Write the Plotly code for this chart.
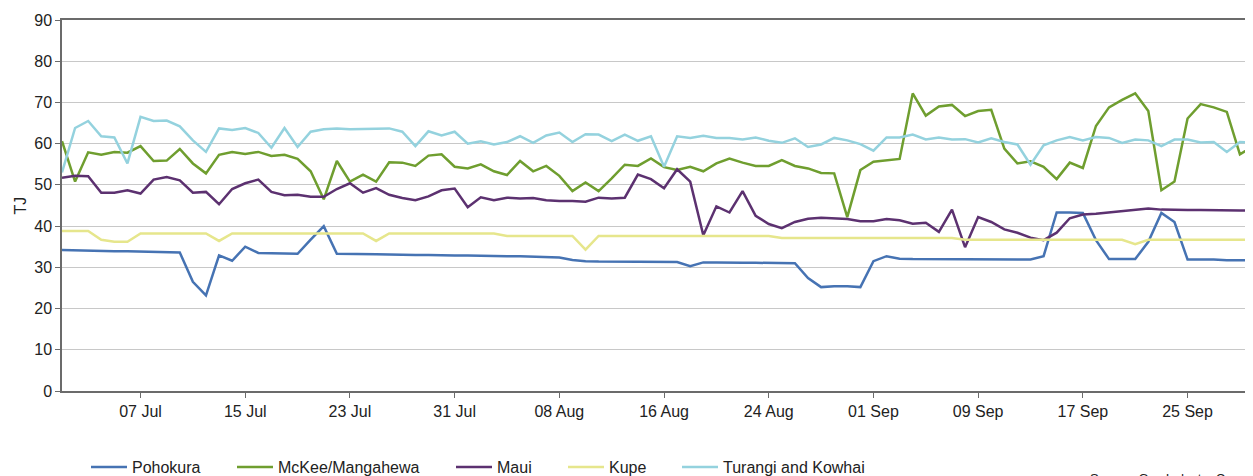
import pandas as pd
import plotly.graph_objects as go

dates = pd.date_range("2023-07-01", periods=92, freq="D")

pohokura = [34.2, 34.1, 34.0, 34.0, 33.9, 33.9, 33.8, 33.7, 33.7, 33.6,
            26.5, 23.2, 32.9, 31.6, 35.0, 33.5, 33.4, 33.3, 33.3, 36.7,
            40.0, 33.3, 33.3, 33.2, 33.2, 33.1, 33.0, 33.0, 33.0, 32.9,
            32.9, 32.9, 32.8, 32.8, 32.7, 32.7, 32.6, 32.5, 32.4, 31.8,
            31.5, 31.4, 31.4, 31.3, 31.3, 31.3, 31.3, 31.3, 30.3, 31.2,
            31.2, 31.1, 31.1, 31.1, 31.1, 31.1, 31.0, 27.4, 25.2, 25.4,
            25.4, 25.2, 31.5, 32.7, 32.1, 32.0, 32.0, 31.9, 31.9, 32.0,
            32.0, 32.0, 32.0, 32.0, 31.9, 32.7, 43.3, 43.3, 43.2, 36.6,
            32.0, 32.0, 32.0, 36.2, 43.2, 41.0, 31.9, 31.9, 31.9, 31.7,
            31.7, 31.7]

mckee = [60.6, 50.8, 57.9, 57.3, 58.0, 57.8, 59.4, 55.8, 55.9, 58.7,
         55.2, 52.8, 57.3, 58.0, 57.5, 58.0, 57.0, 57.3, 56.3, 53.3,
         46.5, 55.8, 50.8, 52.5, 50.8, 55.5, 55.4, 54.6, 57.1, 57.4,
         54.4, 54.0, 55.0, 53.3, 52.4, 55.8, 53.3, 54.6, 52.2, 48.5,
         50.6, 48.5, 51.6, 54.9, 54.6, 56.4, 54.3, 53.6, 54.4, 53.3,
         55.2, 56.4, 55.4, 54.6, 54.6, 56.0, 54.6, 54.0, 52.9, 52.8,
         42.2, 53.6, 55.6, 56.0, 56.3, 72.2, 66.8, 69.0, 69.4, 66.7,
         67.9, 68.2, 58.8, 55.2, 55.7, 54.4, 51.4, 55.4, 54.1, 64.3,
         68.8, 70.6, 72.2, 67.9, 48.7, 50.8, 66.1, 69.6, 68.8, 67.7,
         57.4, 59.4]

maui = [51.7, 52.2, 52.1, 48.1, 48.1, 48.7, 47.9, 51.3, 51.9, 51.1,
        48.1, 48.3, 45.3, 49.0, 50.4, 51.3, 48.3, 47.5, 47.6, 47.1,
        47.1, 49.0, 50.4, 48.1, 49.2, 47.6, 46.8, 46.3, 47.2, 48.7,
        49.1, 44.6, 47.0, 46.3, 46.9, 46.7, 46.8, 46.3, 46.1, 46.1,
        45.9, 46.9, 46.7, 46.9, 52.5, 51.4, 49.2, 53.8, 50.8, 37.8,
        44.8, 43.3, 48.5, 42.5, 40.5, 39.5, 41.0, 41.8, 42.0, 41.9,
        41.7, 41.2, 41.2, 41.7, 41.4, 40.6, 40.8, 38.6, 44.0, 34.9,
        42.2, 41.0, 39.2, 38.4, 37.2, 36.6, 38.4, 41.9, 42.8, 43.0,
        43.3, 43.6, 44.0, 44.3, 44.0, 43.9, 43.9, 43.9, 43.9, 43.8,
        43.8, 43.7]

kupe = [38.8, 38.8, 38.8, 36.7, 36.2, 36.2, 38.2, 38.2, 38.2, 38.2,
        38.2, 38.2, 36.4, 38.2, 38.2, 38.2, 38.2, 38.2, 38.2, 38.2,
        38.2, 38.2, 38.2, 38.2, 36.4, 38.2, 38.2, 38.2, 38.2, 38.2,
        38.2, 38.2, 38.2, 38.2, 37.6, 37.6, 37.6, 37.6, 37.6, 37.6,
        34.3, 37.6, 37.6, 37.6, 37.6, 37.6, 37.6, 37.6, 37.6, 37.6,
        37.6, 37.6, 37.6, 37.6, 37.6, 37.1, 37.1, 37.1, 37.1, 37.1,
        37.1, 37.1, 37.1, 37.1, 37.1, 37.1, 37.1, 37.1, 37.1, 36.7,
        36.7, 36.7, 36.7, 36.7, 36.7, 36.7, 36.7, 36.7, 36.7, 36.7,
        36.7, 36.7, 35.6, 36.7, 36.7, 36.7, 36.7, 36.7, 36.7, 36.7,
        36.7, 36.7]

turangi = [53.0, 63.8, 65.5, 61.8, 61.5, 55.2, 66.5, 65.5, 65.6, 64.2,
           60.8, 58.0, 63.7, 63.3, 63.8, 62.6, 59.0, 63.8, 59.2, 62.9,
           63.5, 63.7, 63.5, 63.5, 63.6, 63.7, 62.9, 59.4, 63.0, 62.0,
           62.9, 60.0, 60.6, 59.8, 60.4, 61.8, 60.2, 62.0, 62.7, 60.4,
           62.3, 62.2, 60.6, 62.2, 60.7, 61.8, 54.4, 61.8, 61.4, 61.9,
           61.4, 61.4, 61.0, 61.5, 60.7, 60.2, 61.3, 59.2, 59.8, 61.4,
           60.8, 59.9, 58.3, 61.5, 61.5, 62.2, 61.0, 61.5, 61.0, 61.1,
           60.3, 61.3, 60.4, 59.8, 54.9, 59.6, 60.8, 61.6, 60.8, 61.6,
           61.4, 60.2, 61.0, 60.8, 59.4, 61.0, 61.0, 60.3, 60.4, 58.0,
           60.4, 60.3]

series_names = ["Pohokura", "McKee/Mangahewa", "Maui", "Kupe", "Turangi and Kowhai"]
series_values = [pohokura, mckee, maui, kupe, turangi]
series_colors = ["#4673b3", "#6f9e2f", "#5c3170", "#e6e68c", "#94d2de"]

tick_dates = pd.date_range("2023-07-07", "2023-09-25", freq="8D")
tick_labels = [d.strftime("%d %b") for d in tick_dates]

FONT = "Liberation Sans, Arial, Helvetica, sans-serif"
TXT = "#222222"

# The page body adds an 8px offset; figure coords = page coords - 8.
OFF = 8
W, H = 1253, 476
PLOT_L, PLOT_R, PLOT_T, PLOT_B = 62, 1253, 20, 391      # target page pixels
ML = PLOT_L - OFF
MT = PLOT_T - OFF
MR = W - (PLOT_R - OFF)
MB = H - (PLOT_B - OFF)
PW = PLOT_R - PLOT_L
PH = PLOT_B - PLOT_T

def paper_x(px_page):
    return (px_page - PLOT_L) / PW

def paper_y(py_page):
    return (PLOT_B - py_page) / PH

legend_left_px = [86, 232, 451, 563, 677]
legend_ids = ["legend", "legend2", "legend3", "legend4", "legend5"]

fig = go.Figure()
for name, vals, col, lid in zip(series_names, series_values, series_colors, legend_ids):
    fig.add_trace(go.Scatter(x=dates, y=vals, mode="lines", name=name, legend=lid,
                             line=dict(color=col, width=2.5)))

legend_layout = {}
for lid, lx in zip(legend_ids, legend_left_px):
    legend_layout[lid] = dict(orientation="h", x=paper_x(lx), xanchor="left",
                              y=paper_y(467), yanchor="middle",
                              font=dict(family=FONT, size=16, color=TXT), itemwidth=36,
                              bgcolor="rgba(0,0,0,0)")

fig.update_layout(
    width=W, height=H,
    margin=dict(l=ML, r=MR, t=MT, b=MB, autoexpand=False),
    paper_bgcolor="white", plot_bgcolor="white",
    font=dict(family=FONT, size=16, color=TXT),
    showlegend=True,
    xaxis=dict(range=[dates[0], dates[-1]], tickvals=tick_dates, ticktext=tick_labels,
               showgrid=False, showline=True, linecolor="#6b6b6b", linewidth=1.5,
               mirror=True, ticks="outside", ticklen=5, tickcolor="#6b6b6b",
               tickfont=dict(size=16, color=TXT), zeroline=False, automargin=False),
    yaxis=dict(range=[0, 90], dtick=10, showgrid=True, gridcolor="#c8c8c8", gridwidth=1,
               showline=True, linecolor="#6b6b6b", linewidth=1.5, ticks="outside",
               ticklen=5, tickcolor="#6b6b6b", tickfont=dict(size=16, color=TXT),
               zeroline=False, automargin=False,
               title=dict(text="TJ", font=dict(size=16, color=TXT), standoff=4)),
    annotations=[dict(text="Source: Gas Industry Co", xref="paper", yref="paper",
                      x=paper_x(1234), y=paper_y(478), xanchor="right",
                      yanchor="middle", showarrow=False,
                      font=dict(size=13, color=TXT))],
    **legend_layout,
)

fig.write_html("out.html")
